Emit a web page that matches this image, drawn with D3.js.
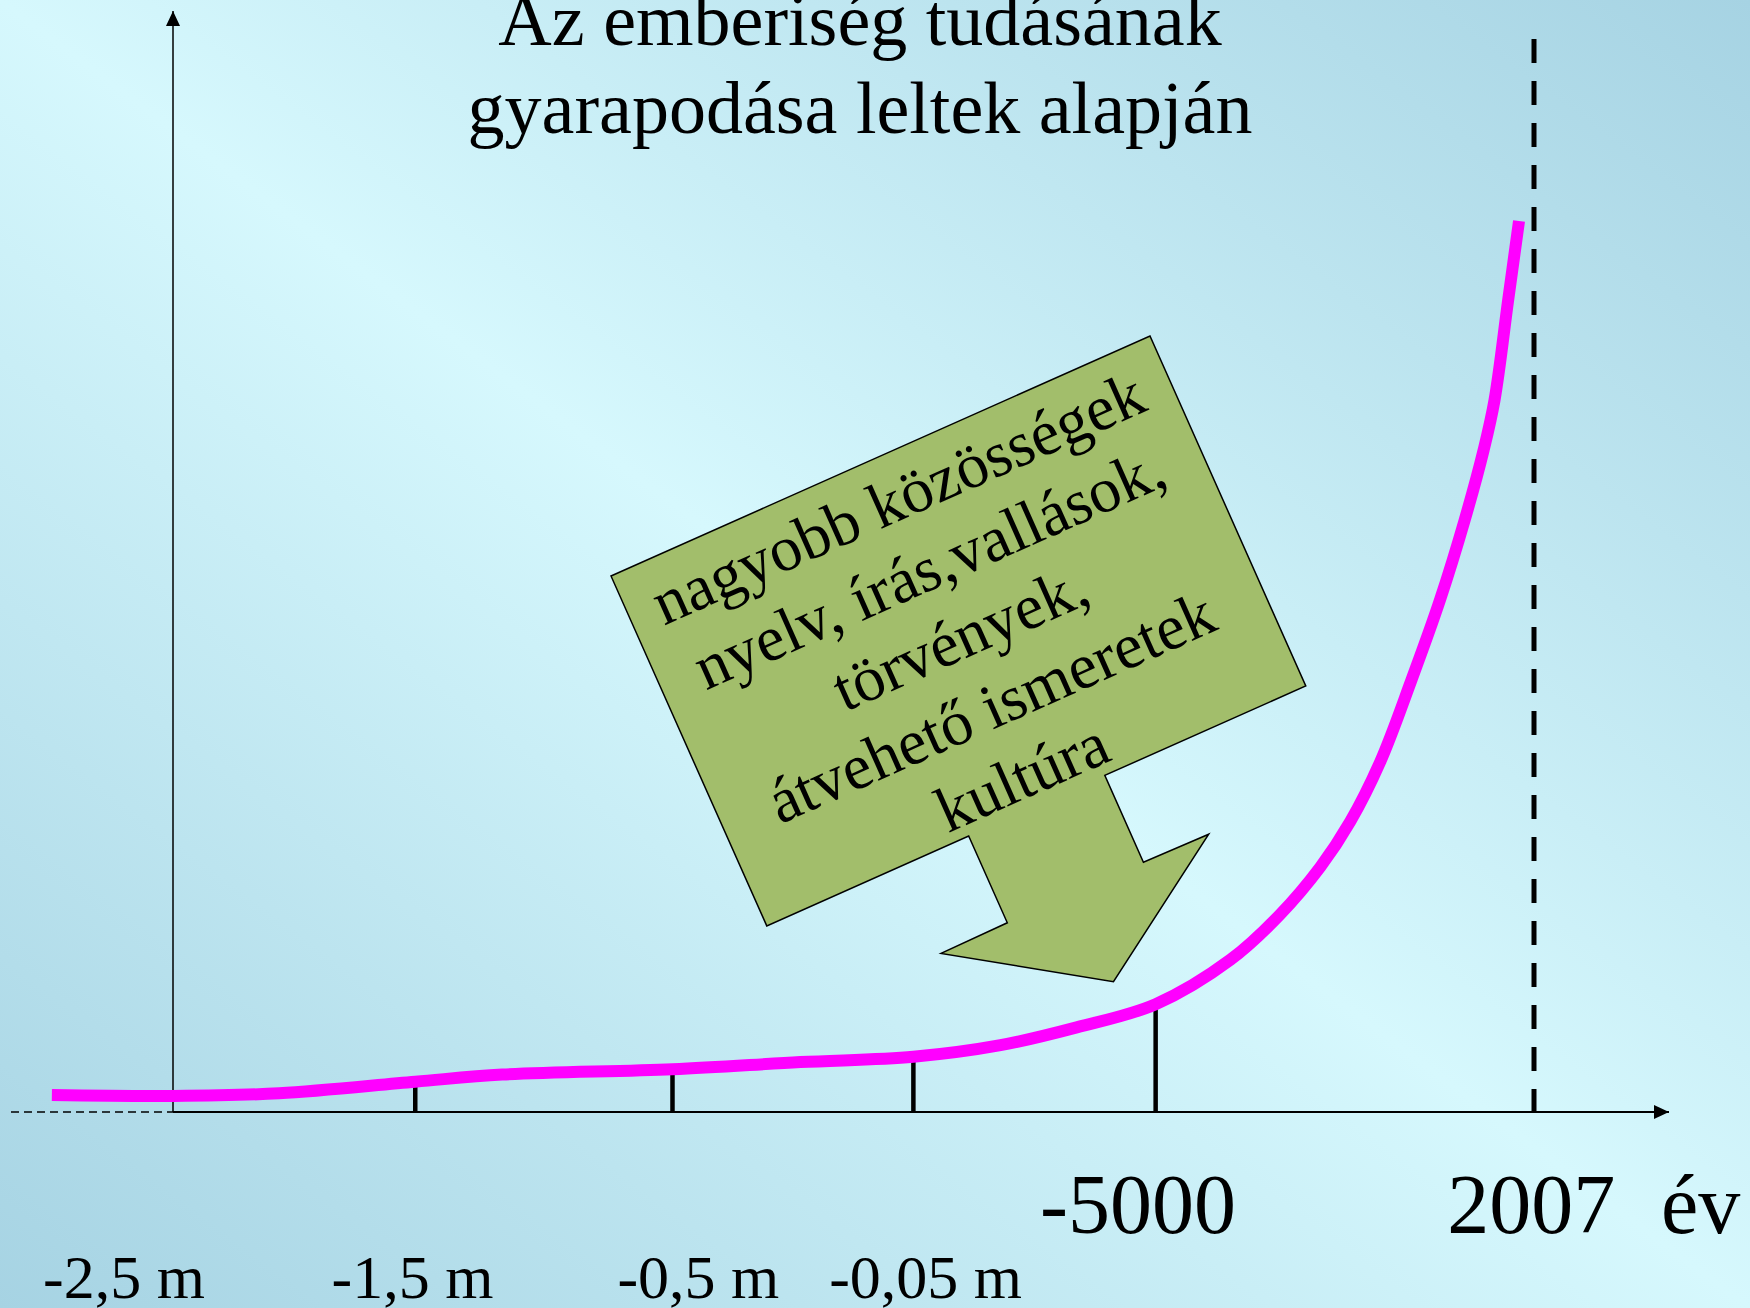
<!DOCTYPE html>
<html>
<head>
<meta charset="utf-8">
<script src="https://cdn.jsdelivr.net/npm/d3@7"></script>
<style>
  body { margin: 0; overflow: hidden; }
  svg { display: block; }
</style>
</head>
<body>
<div id="chart"></div>
<script>
// ---------Data----------

// curve of knowledge, in chart units (x: 0 = axis origin, 100 = 2007; y: 0 = axis, 100 = top of curve)
const curveX = [-8.9, 0, 7.8, 17.8, 24.2, 36.7, 46.1, 54.4, 60.8, 66.4, 72.2, 77.7, 81.3, 84.3, 86.5, 88.7, 91.0, 93.1, 94.9, 96.3, 97.1, 98.1, 98.9];
const curveY = [1.9, 1.8, 2.1, 3.4, 4.2, 4.8, 5.6, 6.2, 7.5, 9.5, 12.1, 17.1, 22.1, 27.5, 32.6, 39.3, 48.5, 57.5, 66.4, 74.3, 79.9, 91.1, 100];

// tick marks on the time axis
const tickX = [17.8, 36.7, 54.4, 72.2];
const tickTop = [3.4, 4.9, 6.7, 11.8];

// small labels (million years) and big labels (years)
const smallLabels = ["-2,5 m", "-1,5 m", "-0,5 m", "-0,05 m"];
const smallLabelX = [-3.6, 17.6, 38.6, 55.3];
const bigLabels = ["-5000", "2007"];
const bigLabelX = [70.9, 99.8];
const nowX = 100;

const titleLines = ["Az emberiség tudásának", "gyarapodása leltek alapján"];
const calloutLines = ["nagyobb közösségek", "nyelv, írás,vallások,", "törvények,", "átvehető ismeretek", "kultúra"];

// ---------Chart----------

const width = 1750;
const height = 1308;
const font = "'Liberation Serif', 'Times New Roman', serif";

const svg = d3.select("#chart")
  .append("svg")
  .attr("width", width)
  .attr("height", height);

const defs = svg.append("defs");

// background gradient: darker at bottom-left and top-right
const grad = defs.append("linearGradient")
  .attr("id", "bg")
  .attr("x1", 0).attr("y1", 1)
  .attr("x2", 1).attr("y2", 0);
grad.append("stop").attr("offset", "0%").attr("stop-color", "#a6d3e3");
grad.append("stop").attr("offset", "50%").attr("stop-color", "#d6f8fd");
grad.append("stop").attr("offset", "100%").attr("stop-color", "#a6d3e3");

defs.append("marker")
  .attr("id", "arrow")
  .attr("viewBox", "0 0 15 14")
  .attr("refX", 15)
  .attr("refY", 7)
  .attr("markerWidth", 15)
  .attr("markerHeight", 14)
  .attr("markerUnits", "userSpaceOnUse")
  .attr("orient", "auto")
  .append("path")
  .attr("d", "M0,0 L15,7 L0,14 Z")
  .attr("fill", "#000");

svg.append("rect")
  .attr("width", width)
  .attr("height", height)
  .attr("fill", "url(#bg)");

// scales
const x = d3.scaleLinear().domain([0, 100]).range([173, 1534]);
const y = d3.scaleLinear().domain([0, 100]).range([1112, 221]);

// title
svg.append("text")
  .attr("x", 860)
  .attr("y", 45)
  .attr("text-anchor", "middle")
  .style("font-family", font)
  .style("font-size", "74px")
  .selectAll("tspan")
  .data(titleLines)
  .enter()
  .append("tspan")
  .attr("x", 860)
  .attr("dy", (d, i) => i === 0 ? 0 : 88)
  .text(d => d);

// y axis with arrow
svg.append("line")
  .attr("x1", x(0)).attr("y1", y(0))
  .attr("x2", x(0)).attr("y2", 11)
  .attr("stroke", "#000")
  .attr("stroke-width", 1.5)
  .attr("marker-end", "url(#arrow)");

// dashed extension of the time axis to the left
svg.append("line")
  .attr("x1", 11).attr("y1", y(0))
  .attr("x2", x(0)).attr("y2", y(0))
  .attr("stroke", "#000")
  .attr("stroke-width", 1.5)
  .attr("stroke-dasharray", "8 5");

// time axis with arrow
svg.append("line")
  .attr("x1", x(0)).attr("y1", y(0))
  .attr("x2", 1669).attr("y2", y(0))
  .attr("stroke", "#000")
  .attr("stroke-width", 2)
  .attr("marker-end", "url(#arrow)");

// present day dashed line
svg.append("line")
  .attr("x1", x(nowX)).attr("y1", 39)
  .attr("x2", x(nowX)).attr("y2", y(0))
  .attr("stroke", "#000")
  .attr("stroke-width", 5)
  .attr("stroke-dasharray", "24 18");

// ticks
svg.selectAll(".tick")
  .data(tickX)
  .enter()
  .append("line")
  .attr("class", "tick")
  .attr("x1", d => x(d)).attr("x2", d => x(d))
  .attr("y1", y(0))
  .attr("y2", (d, i) => y(tickTop[i]))
  .attr("stroke", "#000")
  .attr("stroke-width", 4.5);

// curve
const points = curveX.map((d, i) => [d, curveY[i]]);
svg.append("path")
  .datum(points)
  .attr("d", d3.line().x(d => x(d[0])).y(d => y(d[1])).curve(d3.curveCatmullRom.alpha(0.5)))
  .attr("fill", "none")
  .attr("stroke", "#ff00ff")
  .attr("stroke-width", 12);

// labels
svg.selectAll(".small-label")
  .data(smallLabels)
  .enter()
  .append("text")
  .attr("class", "small-label")
  .attr("x", (d, i) => x(smallLabelX[i]))
  .attr("y", 1298)
  .attr("text-anchor", "middle")
  .style("font-family", font)
  .style("font-size", "62px")
  .text(d => d);

svg.selectAll(".big-label")
  .data(bigLabels)
  .enter()
  .append("text")
  .attr("class", "big-label")
  .attr("x", (d, i) => x(bigLabelX[i]))
  .attr("y", 1233)
  .attr("text-anchor", "middle")
  .style("font-family", font)
  .style("font-size", "84px")
  .text(d => d);

svg.append("text")
  .attr("x", 1661)
  .attr("y", 1233)
  .style("font-family", font)
  .style("font-size", "84px")
  .text("év");

// callout arrow
const callout = svg.append("g")
  .attr("transform", "translate(611,576) rotate(-24)");

callout.append("path")
  .attr("d", "M0,0 L590,0 L590,383 L370,383 L370,478 L441,479 L294,575 L148,479 L221,478 L221,383 L0,383 Z")
  .attr("fill", "#a2be6b")
  .attr("stroke", "#000")
  .attr("stroke-width", 1.5)
  .attr("stroke-linejoin", "miter");

callout.selectAll("text")
  .data(calloutLines)
  .enter()
  .append("text")
  .attr("x", 294)
  .attr("y", (d, i) => 67 + i * 76.25)
  .attr("text-anchor", "middle")
  .style("font-family", font)
  .style("font-size", "64px")
  .text(d => d);
</script>
</body>
</html>
